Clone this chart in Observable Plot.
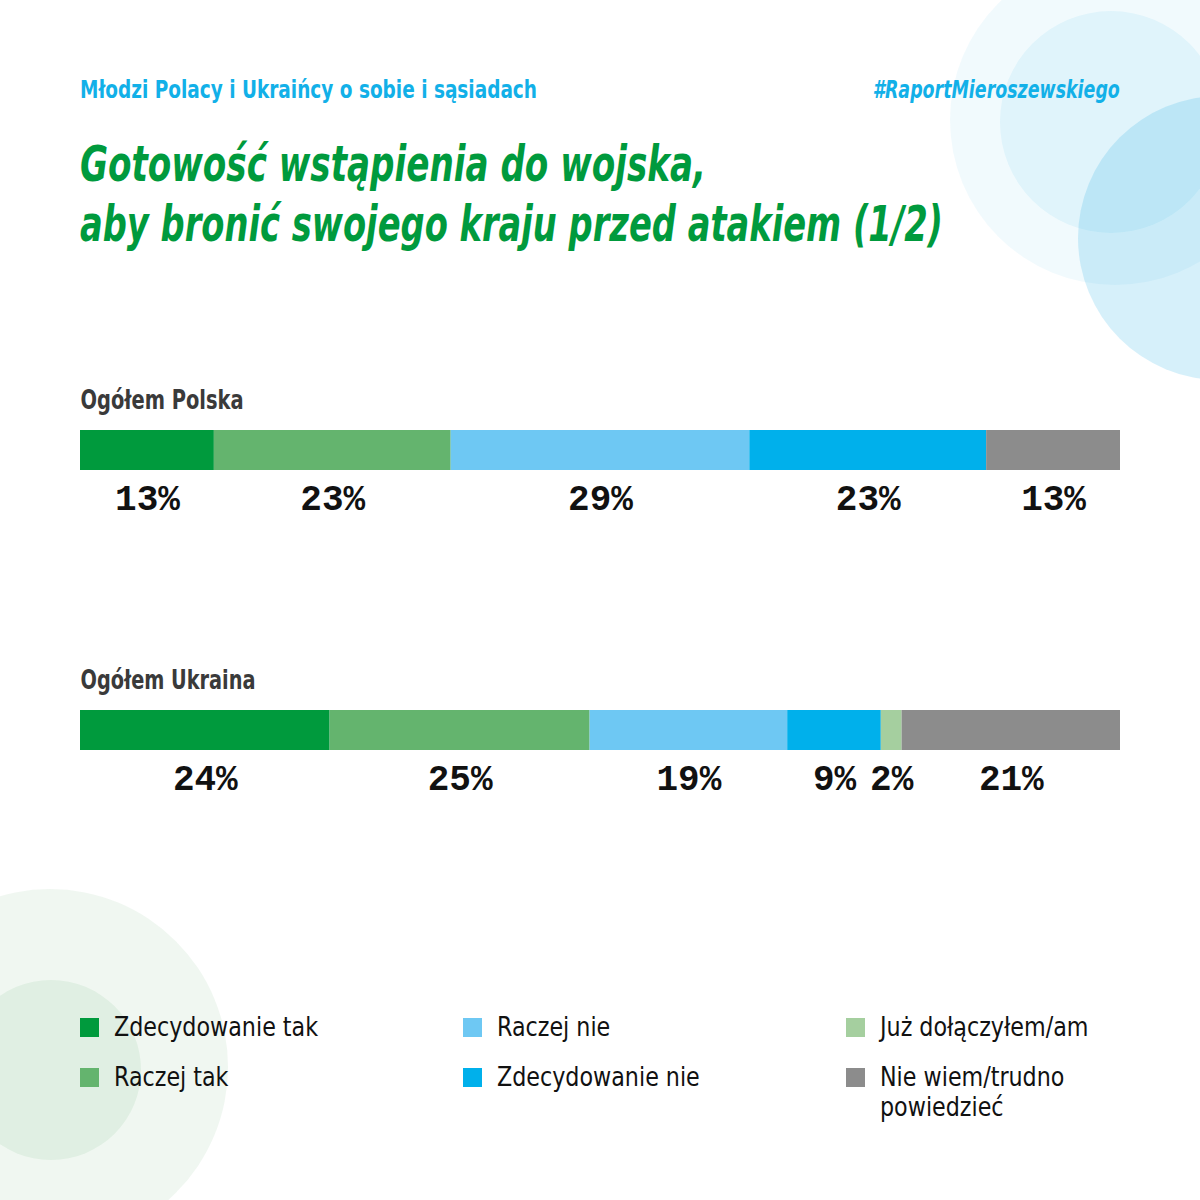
<!DOCTYPE html>
<html>
<head>
<meta charset="utf-8">
<script src="https://cdn.jsdelivr.net/npm/d3@7"></script>
<script src="https://cdn.jsdelivr.net/npm/@observablehq/plot@0.6"></script>
<style>
  html, body { margin: 0; padding: 0; background: #fff; }
  #page { position: relative; width: 1200px; height: 1200px; overflow: hidden; background: #fff;
          font-family: "DejaVu Sans Condensed", "Liberation Sans Narrow", "Roboto", sans-serif; font-stretch: condensed; }
  .circle { position: absolute; border-radius: 50%; }
  .abs { position: absolute; white-space: nowrap; }
  #kicker { left: 80px; top: 75px; font-size: 25px; font-weight: 700; color: #12b0e8; transform-origin: left center; }
  #tag { right: 80px; top: 75px; font-size: 25px; font-weight: 700; font-style: italic; color: #12b0e8; transform-origin: right center; }
  .tline { left: 80px; font-size: 50px; line-height: 60px; font-weight: 700; font-style: italic; color: #009a3d; transform-origin: left center; }
  #chart { position: absolute; left: 0; top: 380px; }
  #legend { position: absolute; left: 80px; top: 1012px; width: 1100px; }
  .item { position: absolute; display: flex; align-items: flex-start; font-size: 26px; line-height: 30px; color: #111; font-weight: 300; }
  .sw { width: 19px; height: 19px; margin-top: 6px; margin-right: 15px; flex: none; }
  .lt { display: inline-block; transform: scaleX(0.95); transform-origin: left center; }
</style>
</head>
<body>
<div id="page">
  <div class="circle" style="left:950px; top:-45px; width:330px; height:330px; background:rgba(0,165,225,0.055);"></div>
  <div class="circle" style="left:1000px; top:11px; width:222px; height:222px; background:rgba(0,165,225,0.07);"></div>
  <div class="circle" style="left:1078px; top:96px; width:284px; height:284px; background:rgba(0,160,225,0.16);"></div>
  <div class="circle" style="left:-128px; top:889px; width:356px; height:356px; background:rgba(40,140,60,0.07);"></div>
  <div class="circle" style="left:-39px; top:980px; width:180px; height:180px; background:rgba(40,150,60,0.08);"></div>

  <div id="kicker" class="abs">Młodzi Polacy i Ukraińcy o sobie i sąsiadach</div>
  <div id="tag" class="abs">#RaportMieroszewskiego</div>
  <div id="t1" class="abs tline" style="top:134px;">Gotowość wstąpienia do wojska,</div>
  <div id="t2" class="abs tline" style="top:194px;">aby bronić swojego kraju przed atakiem (1/2)</div>

  <div id="chart"></div>
  <div id="legend"></div>
</div>
<script>
const groups = ["Ogółem Polska", "Ogółem Ukraina"];
const categories = ["Zdecydowanie tak", "Raczej tak", "Raczej nie", "Zdecydowanie nie", "Już dołączyłem/am", "Nie wiem/trudno powiedzieć"];
const colors = ["#009a3d", "#64b46e", "#6ec8f3", "#00b0eb", "#a5cf9f", "#8c8c8c"];
const polskaValues = [13, 23, 29, 23, null, 13];
const ukrainaValues = [24, 25, 19, 9, 2, 21];

const rows = [];
[polskaValues, ukrainaValues].forEach((vals, gi) => {
  vals.forEach((v, ci) => {
    if (v != null) rows.push({group: groups[gi], cat: categories[ci], value: v});
  });
});

const chart = Plot.plot({
  width: 1200,
  height: 440,
  marginLeft: 80,
  marginRight: 80,
  marginTop: 0,
  marginBottom: 0,
  style: {background: "transparent", overflow: "visible"},
  x: {axis: null, domain: [0, 1]},
  y: {axis: null, domain: groups, range: [50, 370], paddingInner: 6 / 7, paddingOuter: 0},
  color: {domain: categories, range: colors},
  marks: [
    Plot.barX(rows, Plot.stackX({x: "value", y: "group", z: "cat", fill: "cat", offset: "normalize"})),
    Plot.text(rows, Plot.stackX({
      x: "value", y: "group", z: "cat", offset: "normalize",
      text: d => d.value + "%", dy: 48,
      fontSize: 36, fontWeight: 700, fill: "#111",
      fontFamily: "'Liberation Mono', 'DejaVu Sans Mono', monospace"
    })),
    Plot.text(groups, {
      y: d => d, text: d => d, frameAnchor: "left", textAnchor: "start", dy: -50,
      fontSize: 26, fontWeight: 700, fill: "#3a3a3a",
      fontFamily: "'DejaVu Sans Condensed', 'Liberation Sans Narrow', Roboto, sans-serif"
    })
  ]
});
document.getElementById("chart").appendChild(chart);

// fit substituted fonts to the reference's text widths
const rowLabelWidths = {"Ogółem Polska": 163, "Ogółem Ukraina": 175};
chart.querySelectorAll("text").forEach(t => {
  const w = rowLabelWidths[t.textContent];
  if (w) { t.setAttribute("textLength", w); t.setAttribute("lengthAdjust", "spacingAndGlyphs"); }
});
function fit(id, target) {
  const el = document.getElementById(id);
  const w = el.getBoundingClientRect().width;
  el.style.transform = `scaleX(${target / w})`;
}
fit("kicker", 457);
fit("tag", 247);
fit("t1", 626);
fit("t2", 863);

const legend = document.getElementById("legend");
const colX = [0, 383, 766];
categories.forEach((c, i) => {
  const col = Math.floor(i / 2), row = i % 2;
  const el = document.createElement("div");
  el.className = "item";
  el.style.left = colX[col] + "px";
  el.style.top = (row * 50) + "px";
  el.innerHTML = `<span class="sw" style="background:${colors[i]}"></span><span class="lt">${c === "Nie wiem/trudno powiedzieć" ? "Nie wiem/trudno<br>powiedzieć" : c}</span>`;
  legend.appendChild(el);
});
</script>
</body>
</html>
